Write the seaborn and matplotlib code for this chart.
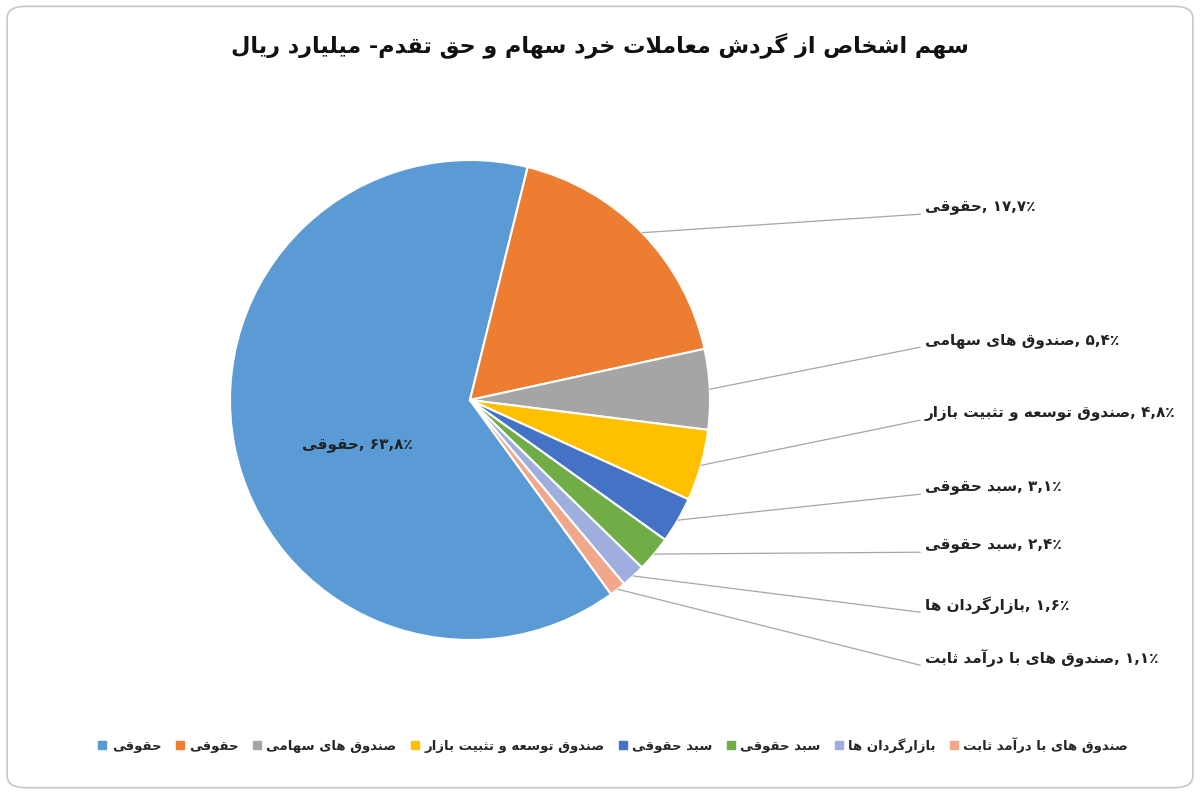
import numpy as np
import matplotlib
matplotlib.use("Agg")
import matplotlib.pyplot as plt
import seaborn as sns
from matplotlib.patches import FancyBboxPatch
from matplotlib.lines import Line2D

sns.set_theme(style="white")
plt.rcParams['font.family'] = ['DejaVu Sans']

# ---- minimal Persian shaping (presentation forms) ----
FORMS = {
 'ا':(0xFE8D,0xFE8E,None,None),'آ':(0xFE81,0xFE82,None,None),
 'ب':(0xFE8F,0xFE90,0xFE91,0xFE92),'ت':(0xFE95,0xFE96,0xFE97,0xFE98),
 'ث':(0xFE99,0xFE9A,0xFE9B,0xFE9C),'ح':(0xFEA1,0xFEA2,0xFEA3,0xFEA4),
 'خ':(0xFEA5,0xFEA6,0xFEA7,0xFEA8),'د':(0xFEA9,0xFEAA,None,None),
 'ر':(0xFEAD,0xFEAE,None,None),'ز':(0xFEAF,0xFEB0,None,None),
 'س':(0xFEB1,0xFEB2,0xFEB3,0xFEB4),'ش':(0xFEB5,0xFEB6,0xFEB7,0xFEB8),
 'ص':(0xFEB9,0xFEBA,0xFEBB,0xFEBC),'ط':(0xFEC1,0xFEC2,0xFEC3,0xFEC4),
 'ع':(0xFEC9,0xFECA,0xFECB,0xFECC),'ق':(0xFED5,0xFED6,0xFED7,0xFED8),
 'ل':(0xFEDD,0xFEDE,0xFEDF,0xFEE0),'م':(0xFEE1,0xFEE2,0xFEE3,0xFEE4),
 'ن':(0xFEE5,0xFEE6,0xFEE7,0xFEE8),'ه':(0xFEE9,0xFEEA,0xFEEB,0xFEEC),
 'و':(0xFEED,0xFEEE,None,None),'ی':(0xFBFC,0xFBFD,0xFBFE,0xFBFF),
 'ک':(0xFB8E,0xFB8F,0xFB90,0xFB91),'گ':(0xFB92,0xFB93,0xFB94,0xFB95),
}
def dual(c):
    return c in FORMS and FORMS[c][2] is not None

def shape(s):
    s = s.replace('لا', '\uFFF0')
    out = []
    for i, c in enumerate(s):
        prev = s[i-1] if i > 0 else ''
        nxt = s[i+1] if i+1 < len(s) else ''
        pj = dual(prev)
        nj = nxt in FORMS or nxt == '\uFFF0'
        if c == '\uFFF0':
            out.append(chr(0xFEFC if pj else 0xFEFB)); continue
        if c not in FORMS:
            out.append(c); continue
        iso, fin, ini, med = FORMS[c]
        if ini is None:
            out.append(chr(fin if pj else iso))
        else:
            if pj and nj: out.append(chr(med))
            elif pj: out.append(chr(fin))
            elif nj: out.append(chr(ini))
            else: out.append(chr(iso))
    return ''.join(out)

def rtl(s):
    return shape(s)[::-1]

# ---- data ----
categories = ['حقوقی', 'حقوقی', 'صندوق های سهامی', 'صندوق توسعه و تثبیت بازار',
              'سبد حقوقی', 'سبد حقوقی', 'بازارگردان ها', 'صندوق های با درآمد ثابت']
values = [63.8, 17.7, 5.4, 4.8, 3.1, 2.4, 1.6, 1.1]
value_labels = ['۶۳,۸', '۱۷,۷', '۵,۴', '۴,۸', '۳,۱', '۲,۴', '۱,۶', '۱,۱']
colors = ['#5B9BD5', '#ED7D31', '#A5A5A5', '#FFC000', '#4472C4', '#70AD47', '#9EAFDD', '#F1A88A']
title = 'سهم اشخاص از گردش معاملات خرد سهام و حق تقدم- میلیارد ریال'

W, H = 1200, 794
fig = plt.figure(figsize=(W/100, H/100), dpi=100)
ax = fig.add_axes([0, 0, 1, 1])
cx, cy, R = 470, 400, 240
def px(x, y):
    return ((x-cx)/R, (cy-y)/R)

fig.patches.append(FancyBboxPatch((0.006, 0.008), 0.988, 0.984, boxstyle="round,pad=0,rounding_size=0.015",
                                  transform=fig.transFigure, facecolor='white', edgecolor='#C8C8C8', lw=1.2, zorder=-1))

wedges, _ = ax.pie(values, colors=colors, startangle=-54, counterclock=False,
                   wedgeprops=dict(edgecolor='white', linewidth=1.5), radius=1, center=(0, 0))
ax.set_aspect('equal')
ax.set_xlim(-cx/R, (W-cx)/R)
ax.set_ylim(-(H-cy)/R, cy/R)
ax.axis('off')

def lab(i):
    return rtl(categories[i]) + ', ' + value_labels[i] + '٪'

ax.text(*px(357, 445), lab(0), ha='center', va='center', fontsize=11, fontweight='bold', color='#222')

label_y = [207, 340, 413, 487, 545, 605, 658]
for k, i in enumerate(range(1, len(values))):
    w = wedges[i]
    ang = np.deg2rad((w.theta1 + w.theta2) / 2)
    sx, sy = np.cos(ang), np.sin(ang)
    tx, ty = px(925, label_y[k])
    ax.plot([sx, tx - 0.02], [sy, ty - 0.03], color='#A6A6A6', lw=0.9)
    ax.text(tx, ty, lab(i), ha='left', va='center', fontsize=11, fontweight='bold', color='#222')

fig.text(0.5, 1 - 45/H, rtl(title), ha='center', va='center', fontsize=16, fontweight='bold', color='#111')

handles = [Line2D([], [], marker='s', ls='', color=c, markersize=6) for c in colors]
fig.legend(handles, [rtl(c) for c in categories], loc='center', bbox_to_anchor=(0.51, 1 - 745/H),
           ncol=8, frameon=False, handletextpad=0.2, columnspacing=0.9, handlelength=1.0,
           prop=dict(weight='bold', size=9.5))

fig.savefig('out.png', dpi=100)
